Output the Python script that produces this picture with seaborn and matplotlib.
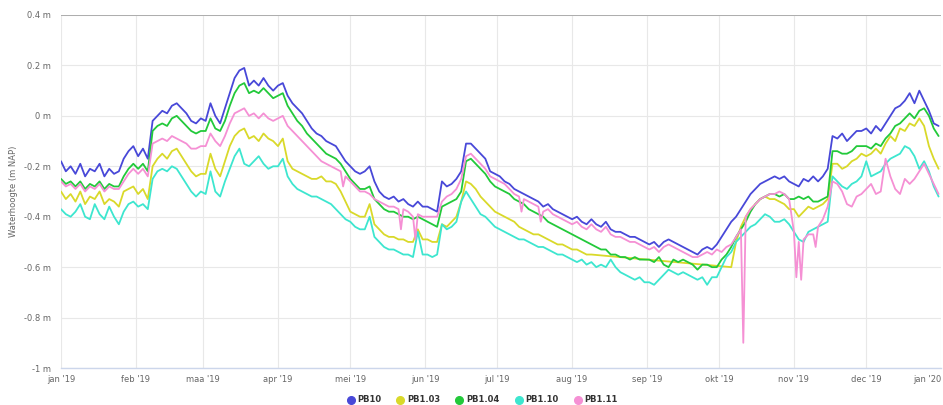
import numpy as np
import pandas as pd
import matplotlib
matplotlib.use("Agg")
import matplotlib.pyplot as plt
from matplotlib.lines import Line2D
import seaborn as sns

# Groundwater levels, sampled every second day of 2019 (values in cm NAP)
dates = pd.date_range("2019-01-01", "2019-12-31", freq="2D")

pb10 = [
    -18, -22, -20, -23, -19, -24, -21, -22, -19, -24, -21, -23, -22, -17, -14, -12,   # jan
    -16, -13, -17, -2, 0, 2, 1, 4, 5, 3, 1, -2, -3, -1,                               # feb
    -2, 5, 0, -3, 3, 9, 15, 18, 19, 12, 14, 12, 15, 12, 10,                           # mrt
    12, 13, 8, 5, 3, 1, -2, -5, -7, -8, -10, -11, -12, -15, -18,                      # apr
    -20, -22, -23, -22, -20, -26, -30, -32, -33, -32, -34, -33, -35, -36, -34, -36,   # mei
    -36, -37, -38, -26, -28, -27, -25, -22, -11, -11, -13, -15, -17, -22, -23,        # jun
    -24, -26, -27, -29, -30, -31, -32, -33, -34, -36, -35, -37, -38, -39, -40,        # jul
    -41, -40, -42, -43, -41, -43, -44, -42, -45, -46, -46, -47, -48, -48, -49, -50,   # aug
    -51, -50, -52, -50, -49, -50, -51, -52, -53, -54, -55, -53, -52, -53, -51,        # sep
    -48, -45, -42, -40, -37, -34, -31, -29, -27, -26, -25, -24, -25, -24, -26,        # okt
    -27, -28, -25, -26, -24, -26, -24, -21, -8, -9, -7, -10, -8, -6, -6,              # nov
    -5, -7, -4, -6, -3, 0, 3, 4, 6, 9, 5, 10, 6, 2, -3, -4,                           # dec
]

pb1_03 = [
    -30, -33, -31, -34, -30, -35, -32, -33, -30, -35, -33, -34, -36, -30, -29, -28,
    -31, -29, -33, -20, -17, -15, -17, -14, -13, -16, -19, -22, -24, -23,
    -23, -15, -21, -24, -18, -12, -8, -6, -5, -9, -8, -10, -7, -9, -10,
    -12, -9, -18, -21, -22, -23, -24, -25, -25, -24, -26, -26, -27, -30, -34,
    -38, -39, -40, -40, -35, -43, -45, -47, -48, -48, -49, -49, -50, -50, -45, -49,
    -49, -50, -50, -43, -44, -42, -40, -34, -26, -27, -29, -32, -34, -36, -38,
    -39, -40, -41, -42, -44, -45, -46, -47, -47, -48, -49, -50, -51, -51, -52,
    -53, -53, -54, -55, -55, None, None, None, None, None, None, None, None, None, None, None,
    None, None, None, None, None, None, None, None, None, None, None, None, None, None, None,
    None, None, -60, -50, -44, -40, -37, -35, -33, -32, -33, -33, -34, -35, -37,
    -37, -40, -38, -36, -37, -36, -35, -33, -19, -19, -21, -20, -18, -17, -15,
    -16, -15, -13, -15, -11, -8, -10, -5, -6, -3, -4, -1, -4, -12, -17, -21,
]

pb1_04 = [
    -25, -27, -26, -28, -26, -29, -27, -28, -26, -29, -27, -28, -28, -24, -21, -19,
    -21, -19, -22, -6, -4, -3, -4, -1, 0, -2, -4, -6, -7, -6,
    -6, -1, -5, -6, -2, 4, 9, 12, 13, 9, 10, 9, 11, 9, 7,
    8, 9, 4, 1, -2, -4, -7, -9, -11, -13, -15, -16, -17, -19, -22,
    -25, -27, -29, -29, -28, -33, -35, -37, -38, -38, -39, -40, -40, -41, -40, -41,
    -42, -43, -44, -36, -35, -34, -33, -30, -18, -17, -19, -21, -23, -26, -28,
    -29, -30, -31, -33, -34, -35, -37, -38, -39, -40, -42, -43, -44, -45, -46,
    -47, -48, -49, -50, -51, -52, -53, -53, -55, -55, -56, -56, -57, -56, -57, -57,
    -57, -58, -56, -59, -60, -57, -58, -57, -58, -59, -61, -59, -59, -60, -60,
    -57, -55, -52, -48, -45, -42, -38, -35, -33, -32, -31, -31, -32, -31, -33,
    -33, -32, -33, -32, -34, -34, -33, -32, -14, -14, -15, -15, -14, -12, -12,
    -12, -13, -11, -12, -9, -7, -4, -3, -1, 1, -1, 2, 3, 0, -5, -8,
]

pb1_10 = [
    -37, -39, -40, -38, -35, -40, -41, -35, -39, -41, -36, -40, -43, -38, -35, -34,
    -36, -35, -37, -25, -22, -21, -22, -20, -21, -24, -27, -30, -32, -30,
    -31, -22, -30, -32, -26, -21, -16, -13, -19, -20, -18, -16, -19, -21, -20,
    -20, -17, -24, -27, -29, -30, -31, -32, -32, -33, -34, -35, -37, -39, -41,
    -42, -44, -45, -45, -40, -48, -50, -52, -53, -53, -54, -55, -55, -56, -46, -55,
    -55, -56, -55, -43, -45, -44, -42, -34, -30, -33, -36, -39, -40, -42, -44,
    -45, -46, -47, -48, -49, -49, -50, -51, -52, -52, -53, -54, -55, -55, -56,
    -57, -58, -57, -59, -58, -60, -59, -60, -57, -60, -62, -63, -64, -65, -64, -66,
    -66, -67, -65, -63, -61, -62, -63, -62, -63, -64, -65, -64, -67, -64, -64,
    -60, -56, -54, -50, -48, -46, -44, -43, -41, -39, -40, -42, -42, -41, -43,
    -46, -49, -50, -46, -45, -44, -43, -42, -24, -26, -28, -29, -27, -26, -24,
    -18, -24, -23, -22, -19, -17, -16, -15, -12, -13, -16, -21, -18, -22, -28, -32,
]

pb1_11 = [
    -26, -28, -27, -29, -27, -30, -28, -29, -27, -30, -28, -29, -29, -26, -23, -21,
    -23, -21, -24, -11, -10, -9, -10, -8, -9, -10, -11, -13, -13, -12,
    -12, -7, -10, -12, -8, -3, 1, 2, 3, 0, 1, -1, 1, -1, -2,
    -1, 0, -4, -6, -8, -10, -12, -14, -16, -18, -19, -20, -21, -22, -24,
    -26, -28, -30, -30, -31, -33, -34, -35, -36, -36, -37, -37, -38, -40, -39, -40,
    -40, -40, -40, -34, -32, -31, -29, -25, -16, -15, -17, -19, -21, -24, -25,
    -26, -27, -29, -31, -32, -33, -34, -35, -36, -38, -37, -39, -40, -41, -42,
    -43, -42, -44, -45, -43, -45, -46, -44, -47, -48, -48, -49, -50, -50, -51, -52,
    -53, -52, -54, -52, -51, -52, -53, -54, -55, -56, -56, -55, -54, -55, -53,
    -54, -52, -51, -48, -45, -40, -37, -35, -33, -32, -31, -31, -30, -31, -33,
    -46, -50, -49, -47, -47, -44, -41, -36, -26, -27, -30, -35, -36, -32, -31,
    -29, -27, -31, -30, -17, -24, -29, -31, -25, -27, -25, -22, -19, -23, -27, -31,
]

# Short sensor dips of PB1.11 (day of year, cm NAP)
pb1_11_dip_days = [117, 141, 147, 191, 199, 283, 305, 307, 313]
pb1_11_dip_vals = [-28, -45, -49, -38, -42, -90, -64, -65, -52]

series_names = ["PB10", "PB1.03", "PB1.04", "PB1.10", "PB1.11"]
series_vals = [pb10, pb1_03, pb1_04, pb1_10, pb1_11]
colors = ["#4848d8", "#d9d92a", "#22c93a", "#3de6cf", "#f590d4"]

month_labels = ["jan '19", "feb '19", "maa '19", "apr '19", "mei '19", "jun '19",
                "jul '19", "aug '19", "sep '19", "okt '19", "nov '19", "dec '19", "jan '20"]
y_ticks = [-1.0, -0.8, -0.6, -0.4, -0.2, 0.0, 0.2, 0.4]
y_labels = ["-1 m", "-0.8 m", "-0.6 m", "-0.4 m", "-0.2 m", "0 m", "0.2 m", "0.4 m"]

# Long-form table for seaborn
frames = []
for name, vals in zip(series_names, series_vals):
    frames.append(pd.DataFrame({"datum": dates,
                                "waterhoogte": np.array(vals, dtype=float) / 100.0,
                                "meetpunt": name}))
dip_dates = pd.Timestamp("2019-01-01") + pd.to_timedelta(pb1_11_dip_days, unit="D")
frames.append(pd.DataFrame({"datum": dip_dates,
                            "waterhoogte": np.array(pb1_11_dip_vals, dtype=float) / 100.0,
                            "meetpunt": "PB1.11"}))
df = pd.concat(frames, ignore_index=True).dropna()
df = df.sort_values(["meetpunt", "datum"])

sns.set_style("white")
plt.rcParams["font.family"] = ["DejaVu Sans"]

fig = plt.figure(figsize=(9.43, 4.05), dpi=100)
ax = fig.add_axes([61 / 943, 1 - 368 / 405, 880 / 943, 353 / 405])

sns.lineplot(data=df, x="datum", y="waterhoogte", hue="meetpunt",
             hue_order=series_names, palette=colors, estimator=None,
             sort=True, linewidth=1.3, legend=False, ax=ax)

month_starts = pd.date_range("2019-01-01", "2020-01-01", freq="MS")
ax.set_xlim(pd.Timestamp("2019-01-01"), pd.Timestamp("2020-01-01"))
ax.set_ylim(-1.0, 0.4)
ax.set_xticks(month_starts)
ax.set_xticklabels(month_labels)
ax.set_yticks(y_ticks)
ax.set_yticklabels(y_labels)
# the last month label sits at the right edge; keep it inside the canvas
ax.get_xticklabels()[-1].set_horizontalalignment("right")

ax.grid(True, color="#e8e8e8", linewidth=0.8)
ax.set_axisbelow(True)
ax.axhline(0.4, color="#a8a8a8", linewidth=1.3, zorder=1)
for side in ["top", "right", "left"]:
    ax.spines[side].set_visible(False)
ax.spines["bottom"].set_color("#ccd6eb")
ax.spines["bottom"].set_linewidth(1.0)

ax.tick_params(axis="both", length=0, labelsize=6, labelcolor="#666666")
ax.tick_params(axis="x", pad=5)
ax.tick_params(axis="y", pad=7)
ax.set_xlabel("")
ax.set_ylabel("")

fig.text(14 / 943, 1 - 191 / 405, "Waterhoogte (m NAP)", rotation=90,
         ha="center", va="center", fontsize=6, color="#666666")

handles = [Line2D([], [], linestyle="", marker="o", markersize=5.5,
                  markerfacecolor=c, markeredgecolor=c) for c in colors]
fig.legend(handles, series_names, loc="center", bbox_to_anchor=(482 / 943, 5 / 405),
           ncol=5, frameon=False, handletextpad=0.3, columnspacing=1.8,
           handlelength=1.0, prop={"size": 6, "weight": "bold"}, labelcolor="#333333")

fig.savefig("out.png", dpi=100)
